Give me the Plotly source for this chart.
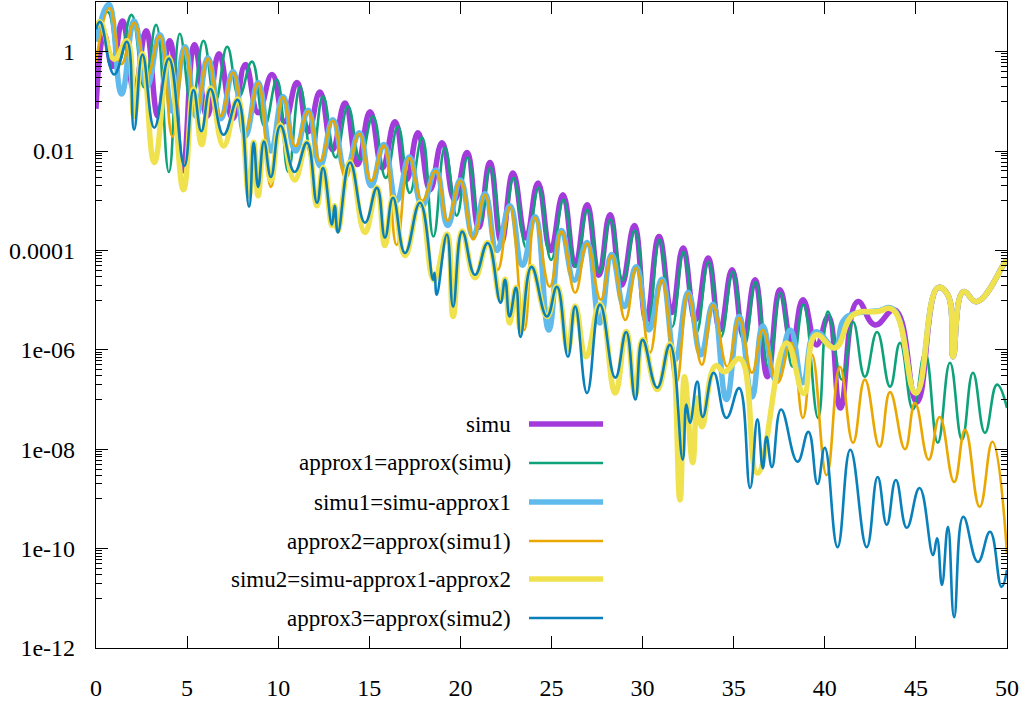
import plotly.graph_objects as go

# ---------------- data (x, log10(y)) ----------------
simu_x = [0.0, 0.45, 0.9, 1.45, 2.1, 2.75, 3.4, 4.05, 4.75, 5.4, 6.1, 6.75, 7.5, 8.2, 8.9, 9.66,
          10.35, 11.03, 11.65, 12.29, 12.98, 13.67, 14.35, 15.04, 15.72, 16.41, 17.04, 17.67,
          18.33, 18.99, 19.68, 20.36, 21.0, 21.62, 22.25, 22.89, 23.6, 24.26, 24.95, 25.63,
          26.3, 26.95, 27.6, 28.21, 28.85, 29.55, 30.2, 30.9, 31.6, 32.22, 32.9, 33.59, 34.25,
          34.91, 35.55, 36.17, 36.85, 37.54, 38.2, 38.8, 39.55, 40.2, 40.85, 41.8, 42.75,
          43.85, 45.05, 46.2, 46.76, 47.04, 47.6, 48.35, 49.9, 50.0]
simu_lg = [-1.15, 0.35, -0.3, 0.62, -0.8, 0.42, -1.3, 0.22, -2.4, 0.14, -1.3, -0.04, -1.35,
           -0.26, -1.23, -0.46, -1.41, -0.62, -1.61, -0.81, -1.97, -1.03, -2.27, -1.21, -2.34,
           -1.41, -2.58, -1.63, -2.78, -1.83, -2.98, -2.03, -3.54, -2.23, -3.83, -2.44, -3.75,
           -2.64, -4.0, -2.88, -4.3, -3.08, -4.5, -3.28, -4.7, -3.5, -5.4, -3.72, -5.25, -3.95,
           -5.4, -4.15, -5.6, -4.39, -5.74, -4.59, -6.54, -4.79, -5.9, -4.99, -5.9, -5.33,
           -7.17, -5.03, -5.5, -5.2, -7.05, -4.75, -4.9, -6.14, -4.83, -5.03, -4.23, -4.19]

approx1_x = [0.0, 0.65, 1.25, 1.95, 2.65, 3.3, 4.0, 4.6, 5.25, 5.9, 6.55, 7.2, 7.85, 8.56, 9.25,
             9.93, 10.55, 11.2, 11.85, 12.46, 13.15, 13.83, 14.5, 15.2, 15.9, 16.57, 17.22,
             17.9, 18.52, 19.15, 19.8, 20.4, 21.05, 21.65, 22.3, 22.92, 23.62, 24.3, 24.98,
             25.66, 26.32, 26.98, 27.62, 28.24, 28.92, 29.58, 30.28, 30.93, 31.62, 32.25,
             32.95, 33.62, 34.3, 34.95, 35.6, 36.2, 36.9, 37.57, 38.22, 38.83, 39.63, 40.17,
             40.94, 41.55, 42.2, 42.87, 43.58, 44.13, 44.84, 45.5, 46.2, 46.87, 47.53, 48.13,
             48.79, 49.45, 50.0]
approx1_lg = [0.3, 0.8, -0.2, 0.74, -0.72, 0.54, -2.42, 0.36, -1.1, 0.22, -1.0, 0.1, -0.9,
              -0.2, -1.5, -0.56, -2.42, -0.7, -2.17, -0.9, -2.13, -1.1, -2.17, -1.3, -2.54,
              -1.5, -2.84, -1.73, -3.72, -1.93, -3.3, -2.13, -3.44, -2.33, -3.74, -2.54, -3.95,
              -2.74, -4.19, -2.98, -4.33, -3.18, -4.45, -3.38, -4.6, -3.6, -5.54, -3.78, -5.54,
              -4.03, -5.66, -4.23, -5.74, -4.43, -5.9, -4.63, -6.34, -4.85, -6.34, -5.09, -7.37,
              -5.23, -6.6, -5.44, -6.54, -5.64, -6.74, -5.86, -7.2, -6.06, -7.87, -6.26, -7.81,
              -6.46, -7.67, -6.7, -7.17]

simu1_x = [0.0, 0.7, 1.4, 2.1, 2.8, 3.5, 4.2, 4.88, 5.5, 6.14, 6.85, 7.52, 8.2, 8.9, 9.6, 10.26,
           10.95, 11.65, 12.3, 13.0, 13.7, 14.45, 15.1, 15.8, 16.5, 17.2, 17.9, 18.65, 19.3,
           20.0, 20.7, 21.35, 22.0, 22.72, 23.4, 24.1, 24.85, 25.55, 26.25, 26.95, 27.65, 28.3,
           29.0, 29.65, 30.35, 31.06, 31.8, 32.5, 33.2, 33.86, 34.6, 35.3, 36.0, 36.6, 37.3,
           38.1, 38.8, 39.5, 40.55, 41.0, 41.55, 42.87, 43.75, 45.0, 46.2, 46.76, 47.04, 47.6,
           48.35, 49.9, 50.0]
simu1_lg = [0.2, 0.95, -0.85, 0.62, -0.7, 0.34, -1.2, 0.1, -1.3, -0.12, -1.35, -0.4, -1.7,
            -0.62, -2.0, -0.9, -2.0, -1.18, -2.3, -1.37, -2.4, -1.63, -2.7, -1.87, -3.0, -2.12,
            -3.1, -2.38, -3.5, -2.58, -3.72, -2.86, -4.0, -3.1, -4.3, -3.32, -5.6, -3.6, -4.6,
            -3.84, -5.46, -4.08, -5.13, -4.33, -5.6, -4.58, -6.2, -4.84, -6.1, -5.08, -7.0,
            -5.33, -6.95, -5.52, -6.6, -5.6, -6.66, -5.64, -5.96, -5.42, -5.28, -5.22, -5.18,
            -6.87, -4.75, -4.9, -6.14, -4.83, -5.03, -4.23, -4.19]

approx2_x = [0.0, 0.75, 1.4, 2.1, 2.8, 3.5, 4.2, 4.88, 5.5, 6.14, 6.85, 7.52, 8.2, 8.9, 9.6,
             10.26, 10.95, 11.65, 12.3, 13.0, 13.7, 14.45, 15.1, 15.8, 16.5, 17.2, 17.9, 18.65,
             19.3, 20.0, 20.7, 21.35, 22.05, 22.72, 23.5, 24.1, 24.9, 25.55, 26.3, 26.95, 27.7,
             28.3, 29.05, 29.65, 30.4, 31.06, 31.85, 32.5, 33.25, 33.86, 34.65, 35.3, 36.0,
             36.6, 37.4, 38.15, 38.8, 39.3, 40.1, 40.83, 41.55, 42.2, 43.0, 43.58, 44.4, 44.95,
             45.7, 46.3, 47.1, 47.7, 48.5, 49.2, 50.0]
approx2_lg = [-0.2, 0.88, -0.25, 0.58, -0.5, 0.32, -1.71, 0.08, -1.2, -0.14, -1.3, -0.42, -1.6,
              -0.63, -2.72, -0.92, -1.9, -1.2, -2.2, -1.39, -2.54, -1.65, -2.6, -1.89, -3.89,
              -2.14, -3.0, -2.4, -3.4, -2.6, -3.78, -2.88, -4.39, -3.12, -5.6, -3.34, -4.73,
              -3.62, -4.85, -3.86, -4.99, -4.1, -5.4, -4.35, -6.06, -4.6, -6.66, -4.86, -6.3,
              -5.1, -6.34, -5.36, -6.46, -5.6, -6.66, -5.86, -7.37, -6.1, -8.52, -6.34, -7.87,
              -6.6, -7.95, -6.85, -8.0, -7.07, -8.21, -7.35, -8.66, -7.61, -9.16, -7.85, -10.1]

simu2_x = [0.0, 0.22, 1.0, 1.7, 2.09, 2.55, 3.2, 4.0, 4.8, 5.35, 5.8, 6.28, 7.0, 7.77, 8.4, 8.65,
           8.9, 9.22, 9.6, 10.12, 10.9, 11.58, 12.13, 12.46, 12.95, 13.1, 13.28, 13.94, 14.76,
           15.42, 15.86, 16.3, 16.96, 17.78, 18.55, 19.26, 19.6, 20.1, 20.8, 21.5, 22.2, 22.45,
           22.7, 23.05, 23.3, 23.9, 24.75, 25.3, 25.9, 26.3, 26.9, 27.66, 28.5, 29.1, 29.6,
           30.0, 30.8, 31.5, 32.05, 32.3, 32.75, 33.0, 33.26, 34.0, 34.5, 35.35, 36.3, 37.9,
           38.85, 39.5, 40.56, 41.55, 42.87, 43.75, 45.0, 46.2, 46.76, 47.04, 47.6, 48.35,
           49.9, 50.0]
simu2_lg = [0.5, 0.6, -0.15, 0.22, -1.3, -0.04, -2.23, -0.12, -2.78, -0.75, -1.87, -0.73, -1.9,
            -0.95, -2.9, -1.82, -2.9, -1.8, -2.6, -1.48, -2.58, -1.82, -3.1, -2.33, -3.5, -3.1,
            -3.6, -2.22, -3.64, -2.73, -3.9, -2.93, -4.1, -3.03, -4.6, -3.67, -5.33, -3.61,
            -4.55, -3.84, -5.0, -4.58, -5.46, -4.74, -5.6, -4.32, -5.33, -4.72, -6.0, -5.12,
            -6.14, -5.08, -6.87, -5.63, -6.9, -5.79, -6.8, -5.88, -9.02, -6.54, -8.27, -6.97,
            -7.55, -6.32, -6.44, -6.18, -8.48, -5.86, -6.88, -5.7, -5.96, -5.3, -5.23, -5.2,
            -6.87, -4.75, -4.9, -6.14, -4.83, -5.03, -4.23, -4.19]

approx3_x = [0.0, 0.22, 1.0, 1.7, 2.09, 2.55, 3.2, 4.0, 4.85, 5.35, 5.78, 6.28, 7.0, 7.77, 8.4,
             8.65, 8.9, 9.22, 9.6, 10.12, 10.9, 11.58, 12.13, 12.46, 12.95, 13.1, 13.28, 13.94,
             14.76, 15.42, 15.86, 16.3, 16.96, 17.78, 18.5, 18.58, 18.7, 19.26, 19.6, 20.1,
             20.8, 21.5, 22.2, 22.45, 22.7, 23.05, 23.3, 23.9, 24.75, 25.3, 25.9, 26.3, 26.95,
             27.66, 28.5, 29.1, 29.6, 30.0, 30.8, 31.5, 32.2, 32.4, 32.6, 33.0, 33.3, 33.9,
             34.6, 35.3, 35.9, 36.3, 36.6, 36.8, 37.1, 37.6, 38.5, 39.1, 39.6, 40.0, 40.7,
             41.4, 42.3, 42.9, 43.4, 43.9, 44.5, 45.2, 45.94, 46.16, 46.43, 46.76, 47.1, 47.6,
             48.4, 49.07, 49.7, 50.0]
approx3_lg = [0.45, 0.6, -0.46, 0.2, -1.57, -0.06, -1.53, -0.14, -2.3, -0.77, -1.6, -0.75,
              -1.67, -0.97, -3.12, -1.83, -2.72, -1.81, -2.52, -1.49, -2.42, -1.83, -3.04,
              -2.34, -3.48, -3.1, -3.64, -2.23, -3.44, -2.74, -3.74, -2.94, -4.05, -3.04,
              -4.59, -4.45, -4.89, -3.68, -5.13, -3.62, -4.49, -3.85, -5.05, -4.59, -5.33,
              -4.75, -5.74, -4.33, -5.33, -4.73, -6.14, -5.13, -6.87, -5.09, -6.56, -5.64,
              -7.0, -5.8, -6.76, -5.9, -8.21, -7.1, -7.47, -6.64, -7.35, -6.46, -7.37, -6.77,
              -8.78, -7.4, -8.38, -7.75, -8.36, -7.2, -8.25, -7.65, -8.7, -7.97, -9.97, -8.01,
              -9.97, -8.56, -9.52, -8.62, -9.58, -8.78, -10.13, -9.79, -10.73, -9.56, -11.38,
              -9.36, -10.27, -9.66, -10.77, -10.43]

names = ["simu", "approx1=approx(simu)", "simu1=simu-approx1", "approx2=approx(simu1)",
         "simu2=simu-approx1-approx2", "approx3=approx(simu2)"]

x_ticks = [0, 5, 10, 15, 20, 25, 30, 35, 40, 45, 50]
y_tick_exps = [-12, -10, -8, -6, -4, -2, 0]
y_tick_text = ["1e-12", "1e-10", "1e-08", "1e-06", "0.0001", "0.01", "1"]

# ---------------- styles ----------------
colors = ["#a33bdb", "#0ea27a", "#60bbec", "#e9a700", "#f0e24e", "#0a80bb"]
widths = [5.5, 2.6, 5.5, 2.6, 5.5, 2.6]
FONT = "Liberation Serif"
TICK_SIZE = 24
KEY_SIZE = 23

data = [(simu_x, simu_lg), (approx1_x, approx1_lg), (simu1_x, simu1_lg),
        (approx2_x, approx2_lg), (simu2_x, simu2_lg), (approx3_x, approx3_lg)]

fig = go.Figure()
for (xs, lgs), name, c, w in zip(data, names, colors, widths):
    fig.add_trace(go.Scatter(
        x=xs, y=[10 ** v for v in lgs], mode="lines", name=name, showlegend=False,
        line=dict(color=c, width=w, shape="spline", smoothing=1.3)))

# gnuplot-style minor tics: k/10 of each labelled major (cluster below each major)
minor_vals = []
for e in y_tick_exps:
    for k in range(1, 10):
        minor_vals.append(10 ** e * k / 10)

fig.update_layout(
    width=1032, height=705,
    margin=dict(l=96, r=25, t=2, b=57),
    paper_bgcolor="white", plot_bgcolor="white",
    font=dict(family=FONT, size=TICK_SIZE, color="black"),
    showlegend=False,
)
fig.update_xaxes(
    range=[0, 50], tickmode="array", tickvals=x_ticks,
    ticks="inside", ticklen=12, tickwidth=1, tickcolor="black",
    showline=True, linecolor="black", linewidth=1.3, mirror="ticks",
    showgrid=False, zeroline=False, ticklabelstandoff=18,
    tickfont=dict(family=FONT, size=TICK_SIZE, color="black"),
)
fig.update_yaxes(
    type="log", range=[-12, 1], tickmode="array",
    tickvals=[10 ** e for e in y_tick_exps], ticktext=y_tick_text,
    ticks="inside", ticklen=12, tickwidth=1, tickcolor="black",
    minor=dict(tickmode="array", tickvals=minor_vals, ticks="inside", ticklen=6,
               tickwidth=1, tickcolor="black", showgrid=False),
    showline=True, linecolor="black", linewidth=1.3, mirror="ticks",
    showgrid=False, zeroline=False, ticklabelstandoff=15,
    tickfont=dict(family=FONT, size=TICK_SIZE, color="black"),
)

# gnuplot-like key: right-aligned text, sample line to the right
key_text_x = 0.4577
key_line_x0, key_line_x1 = 0.4753, 0.5566
key_rows = [0.3467, 0.2864, 0.2260, 0.1656, 0.1068, 0.0464]
for name, c, w, ky in zip(names, colors, widths, key_rows):
    fig.add_annotation(x=key_text_x, y=ky, xref="paper", yref="paper", text=name,
                       showarrow=False, xanchor="right", yanchor="middle",
                       font=dict(family=FONT, size=KEY_SIZE, color="black"))
    fig.add_shape(type="line", xref="paper", yref="paper", x0=key_line_x0, x1=key_line_x1,
                  y0=ky, y1=ky, line=dict(color=c, width=w))

fig.write_html("out.html", config={"displayModeBar": False},
               post_script="document.body.style.margin='0';document.body.style.padding='0';")
